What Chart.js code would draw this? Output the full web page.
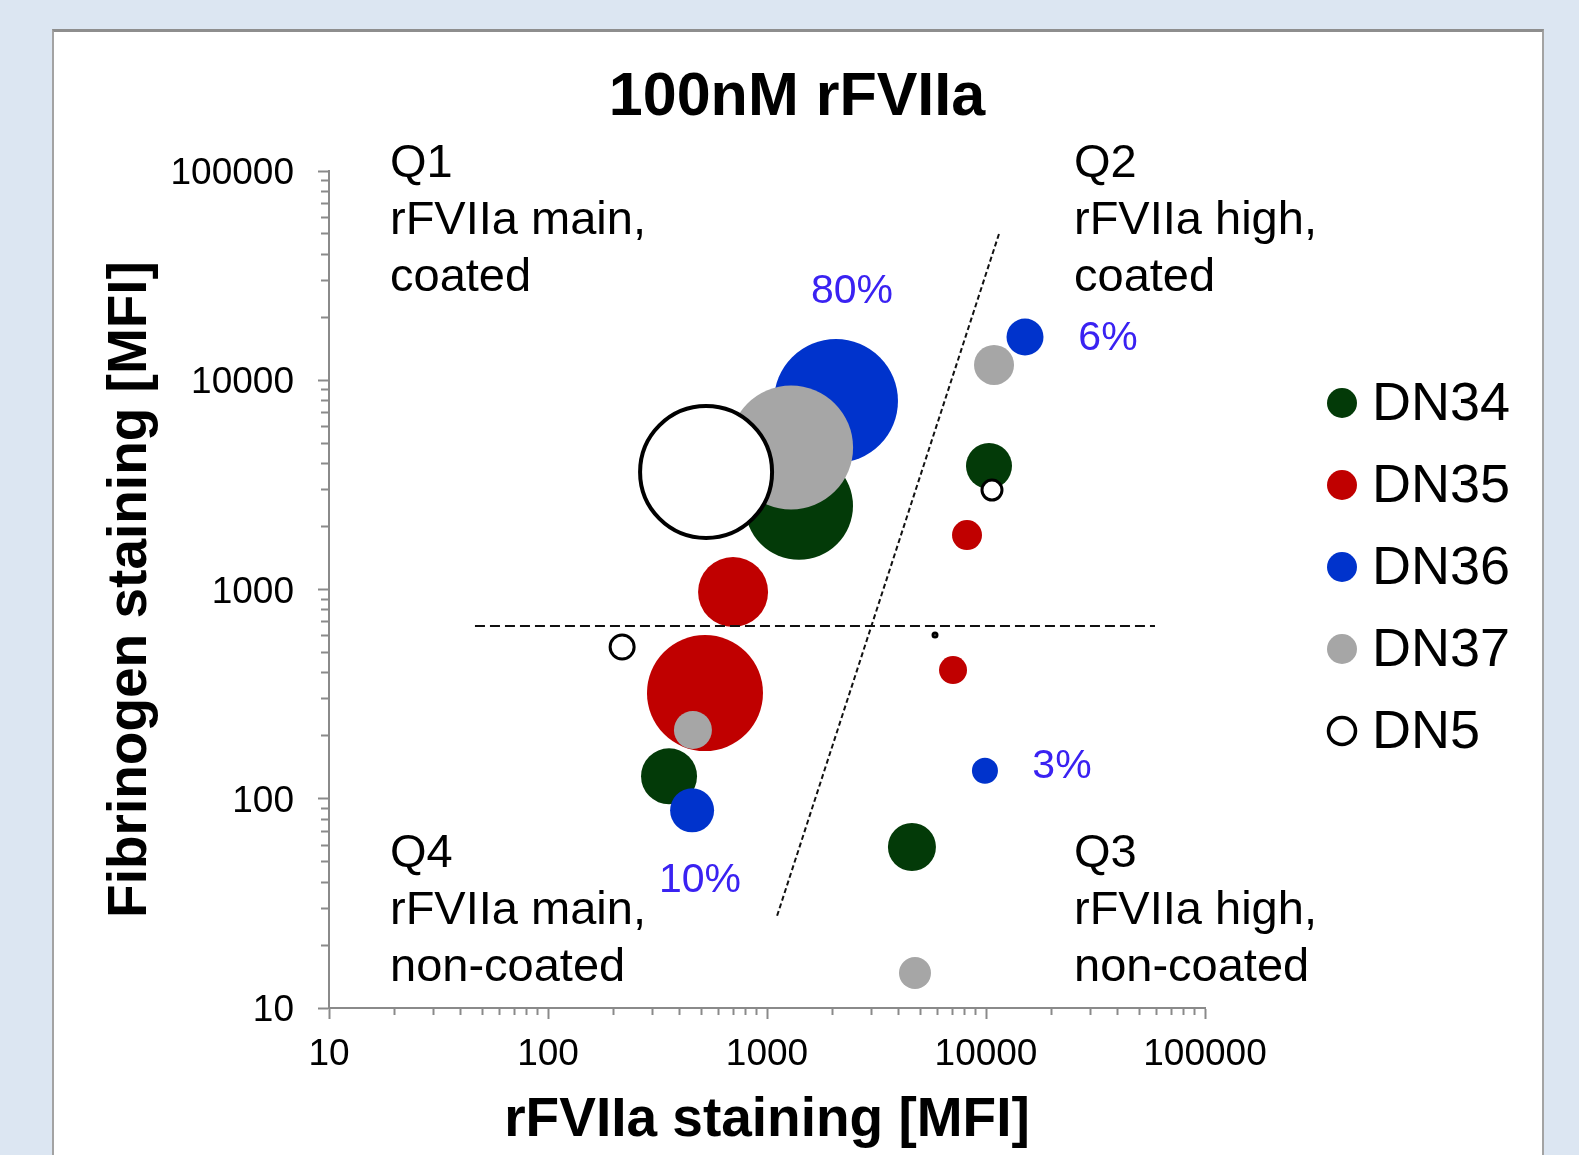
<!DOCTYPE html>
<html>
<head>
<meta charset="utf-8">
<script src="https://cdn.jsdelivr.net/npm/chart.js@4.4.1/dist/chart.umd.min.js"></script>
<style>
  html, body { margin: 0; padding: 0; background: #dce6f2; overflow: hidden; }
  #panel { position: absolute; left: 52px; top: 29px; width: 1488px; height: 1140px; background: #fff;
           border: 2px solid #a3a3a3; border-top: 3px solid #8e8e8e; }
  #wrap { position: absolute; left: 0; top: 0; width: 1579px; height: 1155px; }
</style>
</head>
<body>
<div id="panel"></div>
<div id="wrap"><canvas id="myChart"></canvas></div>
<script>
const FONT = "'Liberation Sans', Arial, sans-serif";

// data (MFI values, bubble radius)
const seriesNames = ["DN34", "DN35", "DN36", "DN37", "DN5"];

const dn34X = [1400, 10320, 357, 4590];
const dn34Y = [2510, 3890, 128, 58.8];
const dn34Size = [54, 23, 28, 24];

const dn35X = [700, 521, 8190, 7070];
const dn35Y = [973, 320, 1820, 412];
const dn35Size = [35, 58, 15, 14];

const dn36X = [2065, 15070, 9890, 455];
const dn36Y = [7960, 16100, 136, 88];
const dn36Size = [62, 18.5, 13, 22];

const dn37X = [1288, 10880, 459, 4740];
const dn37Y = [4770, 11830, 213, 14.7];
const dn37Size = [62, 20, 19, 16];

const dn5X = [527, 10650, 218, 5850];
const dn5Y = [3645, 2987, 531, 606];
const dn5Size = [66, 10, 12, 2];

// gates
const gateX = [46.4, 59100];
const gateY = [670, 670];
const diagX = [11460, 1111];
const diagY = [50000, 27.5];

const majorTicks = [10, 100, 1000, 10000, 100000];
const tickLabels = ["10", "100", "1000", "10000", "100000"];

const chartTitle = "100nM rFVIIa";
const quadrants = [
  { x: 390, y: 164, lines: ["Q1", "rFVIIa main,", "coated"] },
  { x: 1074, y: 164, lines: ["Q2", "rFVIIa high,", "coated"] },
  { x: 390, y: 854, lines: ["Q4", "rFVIIa main,", "non-coated"] },
  { x: 1074, y: 854, lines: ["Q3", "rFVIIa high,", "non-coated"] },
];
const percents = [
  { text: "80%", x: 852, y: 292 },
  { text: "6%", x: 1108, y: 339 },
  { text: "3%", x: 1062, y: 767 },
  { text: "10%", x: 700, y: 881 },
];

function points(xs, ys, rs) {
  return xs.map((x, i) => ({ x: x, y: ys[i], r: rs ? rs[i] : 0 }));
}

function logTicks(scale) {
  const ticks = [];
  majorTicks.forEach((v, i) => {
    ticks.push({ value: v, major: true });
    if (i < majorTicks.length - 1) {
      for (let m = 2; m <= 9; m++) ticks.push({ value: v * m, major: false });
    }
  });
  scale.ticks = ticks;
}

function tickLabel(value) {
  const k = majorTicks.indexOf(value);
  return k >= 0 ? tickLabels[k] : "";
}

const axisColor = "#8a8a8a";

const decor = {
  id: "decor",
  afterDraw(chart) {
    const ctx = chart.ctx;
    ctx.save();
    ctx.textBaseline = "middle";
    ctx.fillStyle = "#000";
    ctx.textAlign = "center";
    ctx.font = "bold 61px " + FONT;
    ctx.fillText(chartTitle, 797, 98);

    ctx.textAlign = "left";
    ctx.font = "47px " + FONT;
    quadrants.forEach((q) => {
      q.lines.forEach((t, i) => ctx.fillText(t, q.x, q.y + i * 57));
    });

    ctx.textAlign = "center";
    ctx.fillStyle = "#3a22f2";
    ctx.font = "41px " + FONT;
    percents.forEach((p) => ctx.fillText(p.text, p.x, p.y));

    // legend
    ctx.textAlign = "left";
    ctx.font = "54px " + FONT;
    const bubbles = chart.data.datasets.filter((d) => d.label);
    bubbles.forEach((d, i) => {
      const cy = 403 + i * 82;
      ctx.beginPath();
      ctx.arc(1342, cy, d.label === "DN5" ? 13.5 : 15, 0, Math.PI * 2);
      ctx.fillStyle = d.backgroundColor;
      ctx.fill();
      if (d.label === "DN5") {
        ctx.lineWidth = 3.5;
        ctx.strokeStyle = "#000";
        ctx.stroke();
      }
      ctx.fillStyle = "#000";
      ctx.fillText(d.label, 1372, cy + 2);
    });
    ctx.restore();
  },
};

const data = {
  datasets: [
    {
      type: "line",
      data: points(gateX, gateY),
      borderColor: "#111",
      borderWidth: 2,
      borderDash: [10, 5],
      pointRadius: 0,
      fill: false,
      order: 0,
    },
    {
      type: "line",
      data: points(diagX, diagY),
      borderColor: "#111",
      borderWidth: 2,
      borderDash: [5, 3],
      pointRadius: 0,
      fill: false,
      order: 0,
    },
    { label: seriesNames[0], data: points(dn34X, dn34Y, dn34Size), backgroundColor: "#033a08", borderWidth: 0, order: 5 },
    { label: seriesNames[1], data: points(dn35X, dn35Y, dn35Size), backgroundColor: "#c00000", borderWidth: 0, order: 4 },
    { label: seriesNames[2], data: points(dn36X, dn36Y, dn36Size), backgroundColor: "#0033cc", borderWidth: 0, order: 3 },
    { label: seriesNames[3], data: points(dn37X, dn37Y, dn37Size), backgroundColor: "#a6a6a6", borderWidth: 0, order: 2 },
    {
      label: seriesNames[4],
      data: points(dn5X, dn5Y, dn5Size),
      backgroundColor: "#ffffff",
      borderColor: "#000",
      borderWidth: (c) => (c.dataIndex === 0 ? 4 : 3),
      order: 1,
    },
  ],
};

const config = {
  type: "bubble",
  data,
  options: {
    responsive: true,
    maintainAspectRatio: false,
    animation: false,
    events: [],
    layout: { padding: { top: 171, right: 374, left: 0, bottom: 0 } },
    scales: {
      x: {
        type: "logarithmic",
        position: "bottom",
        min: 10,
        max: 100000,
        afterBuildTicks: logTicks,
        afterFit: (s) => { s.height = 147; },
        ticks: {
          autoSkip: false,
          maxRotation: 0,
          padding: 14,
          color: "#000",
          font: { family: FONT, size: 37 },
          callback: tickLabel,
        },
        grid: {
          drawOnChartArea: false,
          drawTicks: true,
          tickLength: 11,
          tickWidth: 2,
          tickColor: axisColor,
          tickBorderDash: (c) => (c.tick && c.tick.major ? [] : [6, 40]),
        },
        border: { display: true, color: axisColor, width: 2 },
        title: {
          display: true,
          text: "rFVIIa staining [MFI]",
          color: "#000",
          font: { family: FONT, size: 55, weight: "bold" },
          padding: { top: 0, bottom: 1 },
        },
      },
      y: {
        type: "logarithmic",
        position: "left",
        min: 10,
        max: 100000,
        afterBuildTicks: logTicks,
        afterFit: (s) => { s.width = 329; },
        ticks: {
          autoSkip: false,
          padding: 24,
          labelOffset: 3,
          color: "#000",
          font: { family: FONT, size: 37 },
          callback: tickLabel,
        },
        grid: {
          drawOnChartArea: false,
          drawTicks: true,
          tickLength: 11,
          tickWidth: 2,
          tickColor: axisColor,
          tickBorderDash: (c) => (c.tick && c.tick.major ? [] : [0, 3, 7, 40]),
        },
        border: { display: true, color: axisColor, width: 2 },
        title: {
          display: true,
          text: "Fibrinogen staining [MFI]",
          color: "#000",
          font: { family: FONT, size: 55, weight: "bold" },
          padding: { top: 98, bottom: 0 },
        },
      },
    },
    plugins: {
      legend: { display: false },
      tooltip: { enabled: false },
    },
  },
  plugins: [decor],
};

const myChart = new Chart(document.getElementById("myChart"), config);
</script>
</body>
</html>
